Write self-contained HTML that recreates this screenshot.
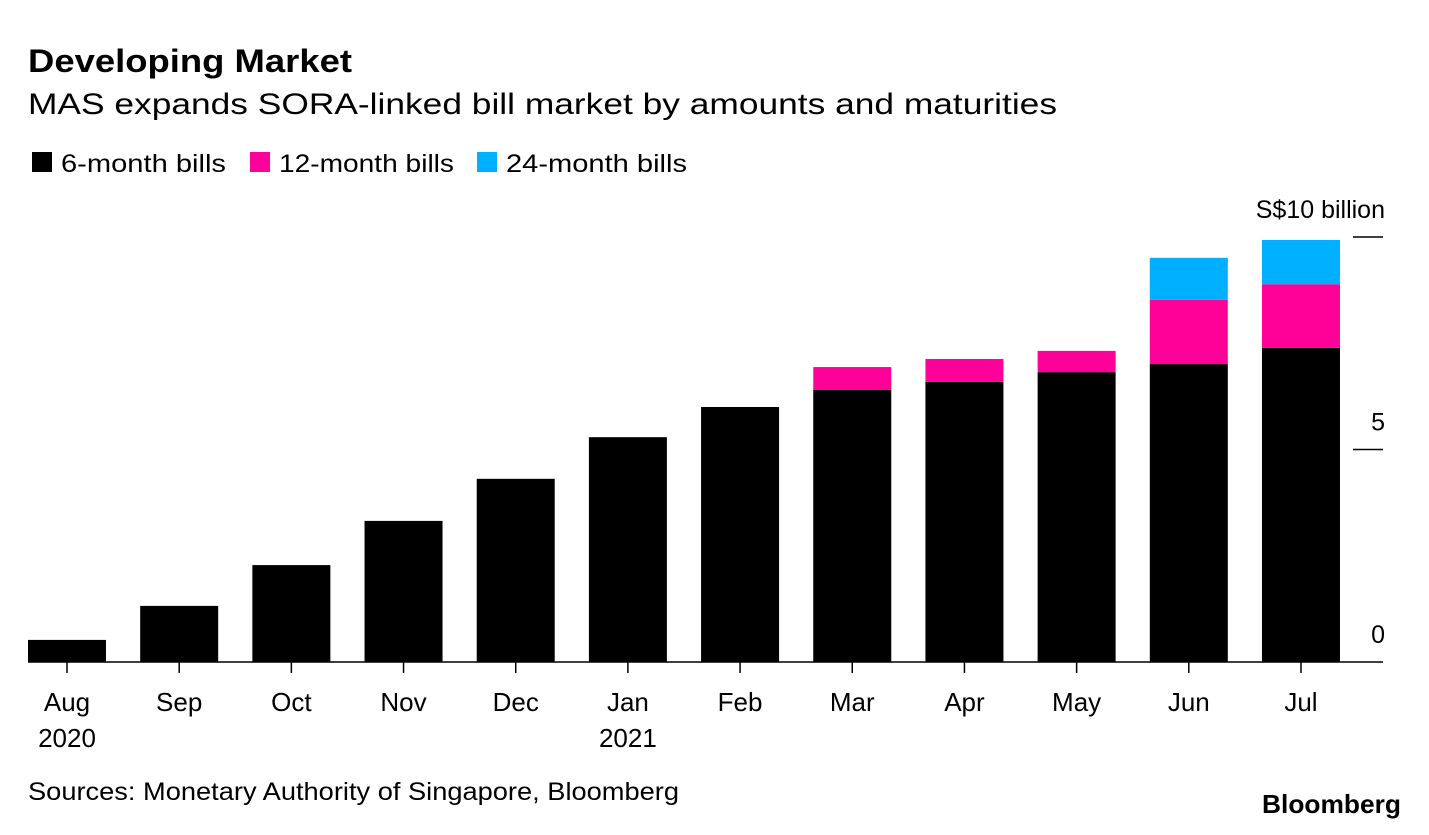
<!DOCTYPE html>
<html><head><meta charset="utf-8"><style>
body{margin:0;background:#fff;font-family:"Liberation Sans",sans-serif;}
svg text{font-family:"Liberation Sans",sans-serif;}
</style></head><body>
<svg width="1429" height="830" xmlns="http://www.w3.org/2000/svg">
<text x="28" y="72" font-size="32" font-weight="bold" fill="#000" textLength="324" lengthAdjust="spacingAndGlyphs">Developing Market</text>
<text x="28" y="114" font-size="30" fill="#000" textLength="1029" lengthAdjust="spacingAndGlyphs">MAS expands SORA-linked bill market by amounts and maturities</text>
<g font-size="25">
<rect x="32" y="152" width="20" height="20" fill="#000"/>
<text x="61" y="172" textLength="165" lengthAdjust="spacingAndGlyphs">6-month bills</text>
<rect x="250" y="152" width="20" height="20" fill="#ff0099"/>
<text x="279" y="172" textLength="175" lengthAdjust="spacingAndGlyphs">12-month bills</text>
<rect x="477" y="152" width="20" height="20" fill="#00b0ff"/>
<text x="506" y="172" textLength="181" lengthAdjust="spacingAndGlyphs">24-month bills</text>
</g>
<g id="plot"></g>
<text x="28" y="800" font-size="25" textLength="651" lengthAdjust="spacingAndGlyphs">Sources: Monetary Authority of Singapore, Bloomberg</text>
<text x="1262" y="813" font-size="26" font-weight="bold" textLength="139" lengthAdjust="spacingAndGlyphs">Bloomberg</text>
</svg>
<script>
const categories=["Aug","Sep","Oct","Nov","Dec","Jan","Feb","Mar","Apr","May","Jun","Jul"];
const yearLabels=["2020","","","","","2021","","","","","",""];
const sixMonth=[0.52,1.32,2.28,3.32,4.31,5.29,6.0,6.4,6.59,6.82,7.01,7.39];
const twelveMonth=[0,0,0,0,0,0,0,0.54,0.54,0.5,1.51,1.5];
const twentyFourMonth=[0,0,0,0,0,0,0,0,0,0,0.99,1.04];
const yTicks=[0,5,10];
const yTickLabels=["0","5","S$10 billion"];
const NS="http://www.w3.org/2000/svg";
const g=document.getElementById('plot');
const y0=662,pxPer=42.5,x0=28,step=112.18,bw=78;
function yScale(v){return y0-v*pxPer;}
function xScale(i){return x0+i*step;}
function mk(t,a){const e=document.createElementNS(NS,t);for(const k in a)e.setAttribute(k,a[k]);g.appendChild(e);return e;}
const series=[[sixMonth,"#000","6m"],[twelveMonth,"#ff0099","12m"],[twentyFourMonth,"#00b0ff","24m"]];
categories.forEach((c,i)=>{
  let base=0;
  series.forEach(([arr,col,nm])=>{
    const v=arr[i];
    if(v>0){
      const r=mk('rect',{x:xScale(i),y:yScale(base+v),width:bw,height:yScale(base)-yScale(base+v),fill:col});
      
      
    }
    base+=v;
  });
  const cx=xScale(i)+bw/2;
  const t=mk('line',{x1:cx,x2:cx,y1:y0,y2:y0+11,stroke:'#000','stroke-width':1.5});
  
  
  const l=mk('text',{x:cx,y:711,'font-size':26,'text-anchor':'middle'});
  l.textContent=c;
  
  
  if(yearLabels[i]){
    const yl=mk('text',{x:cx,y:747,'font-size':26,'text-anchor':'middle'});
    yl.textContent=yearLabels[i];
    
    
  }
});
const ax=mk('line',{x1:28,x2:1383,y1:y0,y2:y0,stroke:'#000','stroke-width':1.5});


yTicks.forEach((v,i)=>{
  const y=yScale(v);
  if(v>0){
    const t=mk('line',{x1:1353,x2:1383,y1:y,y2:y,stroke:'#000','stroke-width':1.5});
    
    
  }
  const l=mk('text',{x:1385,y:y-19,'font-size':25,'text-anchor':'end'});
  l.textContent=yTickLabels[i];
  
  
});
</script>
</body></html>
